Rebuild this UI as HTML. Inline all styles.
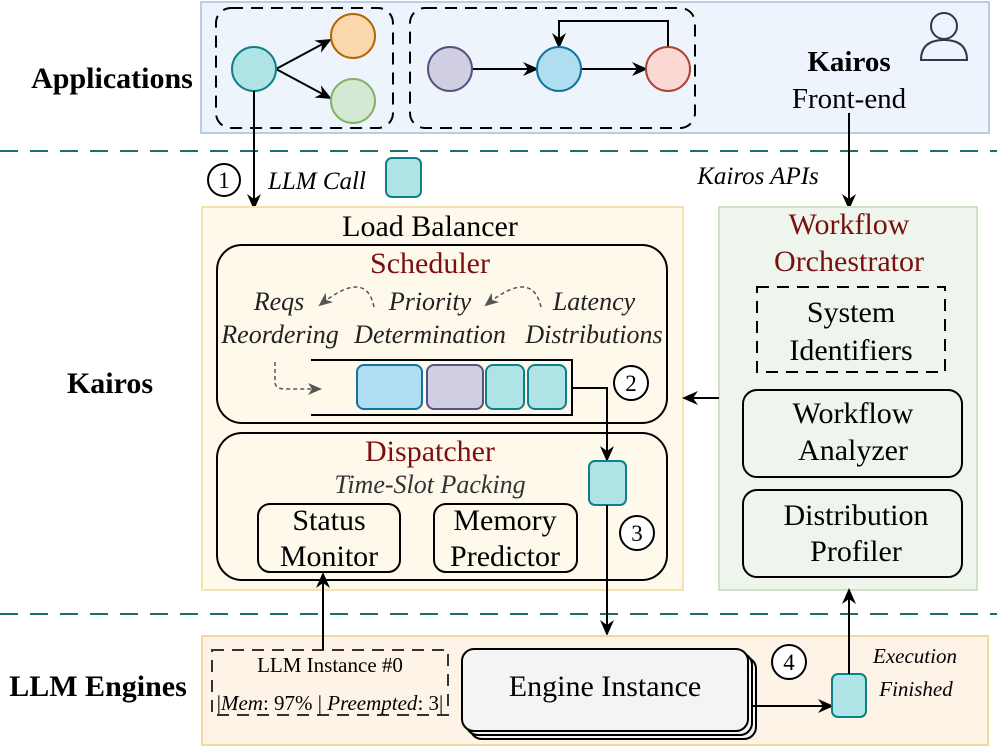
<!DOCTYPE html>
<html><head><meta charset="utf-8"><style>
html,body{margin:0;padding:0;background:#fff;}
svg{display:block;font-family:"Liberation Serif",serif;}
</style></head><body>
<svg width="997" height="750" viewBox="0 0 997 750" xmlns="http://www.w3.org/2000/svg">
<defs>
<marker id="ah" markerWidth="16" markerHeight="16" refX="14" refY="8" orient="auto" markerUnits="userSpaceOnUse">
<path d="M0,1 L16,8 L0,15 L5,8 Z" fill="#000"/></marker>
<marker id="ahg" markerWidth="14" markerHeight="14" refX="12" refY="7" orient="auto" markerUnits="userSpaceOnUse">
<path d="M0,1 L14,7 L0,13 L4,7 Z" fill="#555"/></marker>
</defs>
<!-- Top band -->
<rect x="201" y="2" width="788" height="131" fill="#eef4fc" stroke="#b8cde8" stroke-width="2"/>
<rect x="216" y="8" width="177" height="120" rx="15" fill="none" stroke="#000" stroke-width="2" stroke-dasharray="12,8"/>
<rect x="410" y="8" width="285" height="120" rx="15" fill="none" stroke="#000" stroke-width="2" stroke-dasharray="12,8"/>
<line x1="276" y1="69" x2="330" y2="40" stroke="#000" stroke-width="2" marker-end="url(#ah)"/>
<line x1="276" y1="69" x2="330" y2="98" stroke="#000" stroke-width="2" marker-end="url(#ah)"/>
<line x1="472" y1="69" x2="537" y2="69" stroke="#000" stroke-width="2" marker-end="url(#ah)"/>
<line x1="581" y1="69" x2="646" y2="69" stroke="#000" stroke-width="2" marker-end="url(#ah)"/>
<polyline points="668,47 668,21 559,21 559,47" fill="none" stroke="#000" stroke-width="2" marker-end="url(#ah)"/>
<circle cx="254" cy="69" r="22" fill="#b0e3e6" stroke="#0e8088" stroke-width="2"/>
<circle cx="353" cy="36" r="22" fill="#fad7ac" stroke="#b46504" stroke-width="2"/>
<circle cx="353" cy="101" r="22" fill="#d5e8d4" stroke="#82b366" stroke-width="2"/>
<circle cx="450" cy="69" r="22" fill="#d0cee2" stroke="#56517e" stroke-width="2"/>
<circle cx="559" cy="69" r="22" fill="#b1ddf0" stroke="#10739e" stroke-width="2"/>
<circle cx="668" cy="69" r="22" fill="#fad9d5" stroke="#ae4132" stroke-width="2"/>
<circle cx="944" cy="26" r="13" fill="none" stroke="#2d3a4a" stroke-width="2"/>
<path d="M921,60 Q921,40 944,40 Q967,40 967,60 Z" fill="none" stroke="#2d3a4a" stroke-width="2"/>
<text x="849" y="71" font-size="29" font-weight="bold" text-anchor="middle">Kairos</text>
<text x="849" y="108" font-size="29" text-anchor="middle">Front-end</text>
<line x1="0" y1="151" x2="997" y2="151" stroke="#1f6e6a" stroke-width="2" stroke-dasharray="18,12"/>
<line x1="0" y1="614" x2="997" y2="614" stroke="#1f6e6a" stroke-width="2" stroke-dasharray="18,12"/>
<text x="112" y="88" font-size="30" font-weight="bold" text-anchor="middle">Applications</text>
<text x="110" y="393" font-size="30" font-weight="bold" text-anchor="middle">Kairos</text>
<text x="98" y="696" font-size="30" font-weight="bold" text-anchor="middle">LLM Engines</text>
<line x1="254" y1="91" x2="254" y2="208" stroke="#000" stroke-width="2" marker-end="url(#ah)"/>
<circle cx="224" cy="180" r="16" fill="#fff" stroke="#000" stroke-width="2"/>
<text x="224" y="188" font-size="23" text-anchor="middle">1</text>
<text x="268" y="189" font-size="25" font-style="italic">LLM Call</text>
<rect x="386" y="158" width="35" height="39" rx="6" fill="#b0e3e6" stroke="#0e8088" stroke-width="2"/>
<text x="758" y="184" font-size="25" font-style="italic" text-anchor="middle">Kairos APIs</text>
<line x1="849" y1="113" x2="849" y2="208" stroke="#000" stroke-width="2" marker-end="url(#ah)"/>
<!-- Load balancer -->
<rect x="202" y="207" width="481" height="383" fill="#fff9ec" stroke="#f3e3b3" stroke-width="2"/>
<text x="430" y="236" font-size="30" text-anchor="middle">Load Balancer</text>
<rect x="217" y="245" width="450" height="178" rx="25" fill="none" stroke="#000" stroke-width="2"/>
<text x="430" y="273" font-size="30" fill="#7a0f0f" text-anchor="middle">Scheduler</text>
<g font-size="26" font-style="italic" fill="#222" text-anchor="middle">
<text x="279" y="310">Reqs</text><text x="280" y="343">Reordering</text>
<text x="430" y="310">Priority</text><text x="430" y="343">Determination</text>
<text x="594" y="310">Latency</text><text x="594" y="343">Distributions</text>
</g>
<path d="M374,307 Q366,268 320,305" fill="none" stroke="#555" stroke-width="1.5" stroke-dasharray="4,3" marker-end="url(#ahg)"/>
<path d="M541,307 Q532,268 486,305" fill="none" stroke="#555" stroke-width="1.5" stroke-dasharray="4,3" marker-end="url(#ahg)"/>
<path d="M275,362 L275,382 Q275,389 285,389 L320,389" fill="none" stroke="#555" stroke-width="1.5" stroke-dasharray="4,3" marker-end="url(#ahg)"/>
<polyline points="311,360 572,360 572,415 311,415" fill="none" stroke="#000" stroke-width="2"/>
<rect x="357" y="365" width="65" height="44" rx="7" fill="#b1ddf0" stroke="#10739e" stroke-width="2"/>
<rect x="427" y="365" width="56" height="44" rx="7" fill="#d0cee2" stroke="#56517e" stroke-width="2"/>
<rect x="486" y="365" width="38" height="44" rx="7" fill="#b0e3e6" stroke="#0e8088" stroke-width="2"/>
<rect x="528" y="365" width="38" height="44" rx="7" fill="#b0e3e6" stroke="#0e8088" stroke-width="2"/>
<polyline points="572,388 607,388 607,460" fill="none" stroke="#000" stroke-width="2" marker-end="url(#ah)"/>
<circle cx="631" cy="383" r="17" fill="#fff" stroke="#000" stroke-width="2"/>
<text x="631" y="391" font-size="23" text-anchor="middle">2</text>
<rect x="217" y="433" width="450" height="147" rx="25" fill="none" stroke="#000" stroke-width="2"/>
<text x="430" y="461" font-size="30" fill="#7a0f0f" text-anchor="middle">Dispatcher</text>
<text x="430" y="493" font-size="26" font-style="italic" fill="#333" text-anchor="middle">Time-Slot Packing</text>
<rect x="258" y="504" width="142" height="68" rx="12" fill="none" stroke="#000" stroke-width="2"/>
<text x="329" y="530" font-size="30" text-anchor="middle">Status</text>
<text x="329" y="566" font-size="30" text-anchor="middle">Monitor</text>
<rect x="434" y="504" width="143" height="68" rx="12" fill="none" stroke="#000" stroke-width="2"/>
<text x="505" y="530" font-size="30" text-anchor="middle">Memory</text>
<text x="505" y="566" font-size="30" text-anchor="middle">Predictor</text>
<rect x="589" y="461" width="37" height="44" rx="6" fill="#b0e3e6" stroke="#0e8088" stroke-width="2"/>
<line x1="607" y1="505" x2="607" y2="634" stroke="#000" stroke-width="2" marker-end="url(#ah)"/>
<circle cx="637" cy="533" r="17" fill="#fff" stroke="#000" stroke-width="2"/>
<text x="637" y="541" font-size="23" text-anchor="middle">3</text>
<!-- Workflow orchestrator -->
<rect x="719" y="207" width="258" height="383" fill="#eef5ec" stroke="#cfe2c9" stroke-width="2"/>
<text x="849" y="234" font-size="30" fill="#7a0f0f" text-anchor="middle">Workflow</text>
<text x="849" y="271" font-size="30" fill="#7a0f0f" text-anchor="middle">Orchestrator</text>
<rect x="757" y="287" width="188" height="85" fill="none" stroke="#000" stroke-width="2" stroke-dasharray="12,8"/>
<text x="851" y="322" font-size="30" text-anchor="middle">System</text>
<text x="851" y="360" font-size="30" text-anchor="middle">Identifiers</text>
<rect x="743" y="390" width="219" height="87" rx="14" fill="none" stroke="#000" stroke-width="2"/>
<text x="853" y="423" font-size="30" text-anchor="middle">Workflow</text>
<text x="853" y="460" font-size="30" text-anchor="middle">Analyzer</text>
<rect x="743" y="490" width="219" height="87" rx="14" fill="none" stroke="#000" stroke-width="2"/>
<text x="856" y="525" font-size="30" text-anchor="middle">Distribution</text>
<text x="856" y="561" font-size="30" text-anchor="middle">Profiler</text>
<line x1="719" y1="398" x2="684" y2="398" stroke="#000" stroke-width="2" marker-end="url(#ah)"/>
<!-- LLM Engines band -->
<rect x="202" y="636" width="786" height="109" fill="#fdf3e7" stroke="#f3d8a0" stroke-width="2"/>
<rect x="212" y="650" width="236" height="65" fill="none" stroke="#333" stroke-width="2" stroke-dasharray="12,8"/>
<text x="330" y="672" font-size="21" text-anchor="middle">LLM Instance #0</text>
<text x="330" y="710" font-size="21" text-anchor="middle">|<tspan font-style="italic">Mem</tspan>: 97% | <tspan font-style="italic">Preempted</tspan>: 3|</text>
<line x1="323" y1="650" x2="323" y2="574" stroke="#000" stroke-width="2" marker-end="url(#ah)"/>
<rect x="470" y="657" width="286" height="82" rx="12" fill="#f4f4f4" stroke="#000" stroke-width="2"/>
<rect x="466" y="653" width="286" height="82" rx="12" fill="#f4f4f4" stroke="#000" stroke-width="2"/>
<rect x="462" y="649" width="286" height="82" rx="12" fill="#f4f4f4" stroke="#000" stroke-width="2"/>
<text x="605" y="696" font-size="30" text-anchor="middle">Engine Instance</text>
<line x1="752" y1="706" x2="832" y2="706" stroke="#000" stroke-width="2" marker-end="url(#ah)"/>
<circle cx="789" cy="662" r="17" fill="#fff" stroke="#000" stroke-width="2"/>
<text x="789" y="670" font-size="23" text-anchor="middle">4</text>
<rect x="832" y="674" width="34" height="43" rx="6" fill="#b0e3e6" stroke="#0e8088" stroke-width="2"/>
<line x1="849" y1="674" x2="849" y2="590" stroke="#000" stroke-width="2" marker-end="url(#ah)"/>
<text x="915" y="663" font-size="21" font-style="italic" text-anchor="middle">Execution</text>
<text x="916" y="696" font-size="21" font-style="italic" text-anchor="middle">Finished</text>
</svg>
</body></html>
